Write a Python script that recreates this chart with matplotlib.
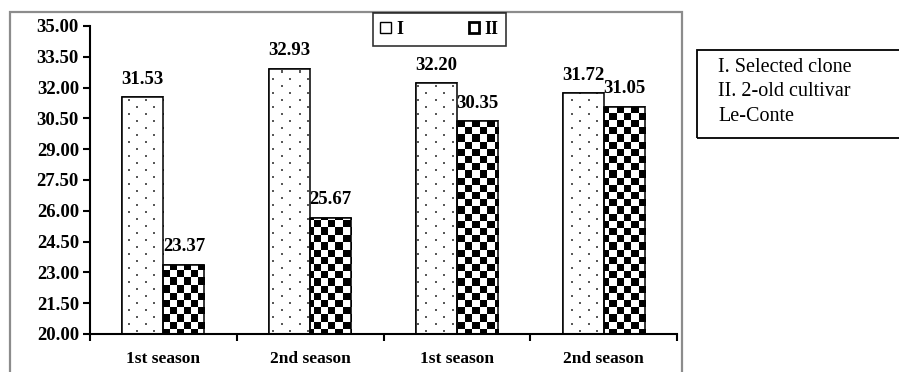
import numpy as np
import matplotlib
matplotlib.use("Agg")
import matplotlib.pyplot as plt
from matplotlib.patches import Rectangle, Patch

categories = ["1st season", "2nd season", "1st season", "2nd season"]
clone_vals = [31.53, 32.93, 32.20, 31.72]
cultivar_vals = [23.37, 25.67, 30.35, 31.05]
series_names = ["I", "II"]
note_lines = ["I. Selected clone", "II. 2-old cultivar", "Le-Conte"]

plt.rcParams["font.family"] = ["Liberation Serif", "DejaVu Serif"]

W, H = 8.99, 3.72
fig = plt.figure(figsize=(W, H), dpi=100)
ax_l, ax_b = 90 / 899, (372 - 334) / 372
ax_w, ax_h = (677 - 90) / 899, (334 - 26) / 372
ax = fig.add_axes([ax_l, ax_b, ax_w, ax_h])
px_w, px_h = int(round(ax_w * 899)), int(round(ax_h * 372))


def make_texture(kind):
    tex = np.ones((px_h, px_w))
    if kind == "checker":
        cell = 7.2
        yy, xx = np.mgrid[0:px_h, 0:px_w]
        tex = ((np.floor(xx / cell) + np.floor(yy / cell)) % 2).astype(float)
    else:
        for r, y in enumerate(range(3, px_h - 1, 7)):
            off = 4 if r % 2 == 0 else 12
            for xc in range(off, px_w - 1, 17):
                tex[y:y + 2, xc:xc + 2] = 0.35
    return tex


x = np.arange(len(categories))
bw = 0.28
bars1 = ax.bar(x - bw / 2, clone_vals, bw, color="white",
               edgecolor="black", linewidth=1.1, zorder=2)
bars2 = ax.bar(x + bw / 2, cultivar_vals, bw, color="white",
               edgecolor="black", linewidth=1.1, zorder=2)

for bars, kind in [(bars1, "dots"), (bars2, "checker")]:
    tex = make_texture(kind)
    for p in bars:
        im = ax.imshow(tex, extent=(0, 1, 0, 1), transform=ax.transAxes,
                       cmap="gray", vmin=0, vmax=1, interpolation="nearest",
                       aspect="auto", origin="upper", zorder=2.5)
        im.set_clip_path(p)
    for p in bars:
        ax.add_patch(Rectangle(p.get_xy(), p.get_width(), p.get_height(),
                               facecolor="none", edgecolor="black",
                               linewidth=1.1, zorder=3))

for bars, vals in [(bars1, clone_vals), (bars2, cultivar_vals)]:
    for p, v in zip(bars, vals):
        ax.annotate(f"{v:.2f}", (p.get_x() + p.get_width() / 2, v),
                    xytext=(0, 7), textcoords="offset points",
                    ha="center", va="bottom", fontsize=13.5, fontweight="bold")

ax.set_xlim(-0.5, 3.5)
ax.set_ylim(20, 35)
yt = np.arange(20, 35.01, 1.5)
ax.set_yticks(yt)
ax.set_yticklabels([f"{t:.2f}" for t in yt], fontsize=13.5, fontweight="bold")
ax.set_xticks(x)
ax.set_xticklabels(categories, fontsize=12.5, fontweight="bold")
ax.tick_params(axis="x", length=0, pad=12)
ax.set_xticks(np.arange(-0.5, 3.6, 1), minor=True)
ax.tick_params(axis="x", which="minor", length=5, width=1.5, direction="out")
ax.tick_params(axis="y", length=5, width=1.5, direction="out", pad=3)
for s in ["top", "right"]:
    ax.spines[s].set_visible(False)
for s in ["left", "bottom"]:
    ax.spines[s].set_linewidth(1.5)

# legend
handles = [Patch(facecolor="white", edgecolor="black", linewidth=1.0),
           Patch(facecolor="white", edgecolor="black", linewidth=2.0)]
leg = fig.legend(handles, series_names, loc="center", ncol=2,
                 bbox_to_anchor=(439.5 / 899, 1 - 29.5 / 372),
                 prop={"weight": "bold", "size": 13}, frameon=True,
                 fancybox=False, handlelength=0.6, handleheight=0.6,
                 handletextpad=0.3, columnspacing=3.6, borderpad=0.42,
                 borderaxespad=0)
leg.get_frame().set_edgecolor("black")
leg.get_frame().set_linewidth(1.2)

# outer chart frame
fig.add_artist(Rectangle((10 / 899, -0.05), (682 - 10) / 899, 1.05 - 12 / 372,
                         transform=fig.transFigure, facecolor="none",
                         edgecolor="#8c8c8c", linewidth=1.6, clip_on=False))
# side note box
fig.add_artist(Rectangle((697 / 899, 1 - 138 / 372), 0.3, 88 / 372,
                         transform=fig.transFigure, facecolor="none",
                         edgecolor="black", linewidth=1.3, clip_on=False))
for i, line in enumerate(note_lines):
    fig.text(718 / 899, 1 - (67 + 25 * i) / 372, line, fontsize=14.5,
             va="center", ha="left")

fig.savefig("out.png", dpi=100)
